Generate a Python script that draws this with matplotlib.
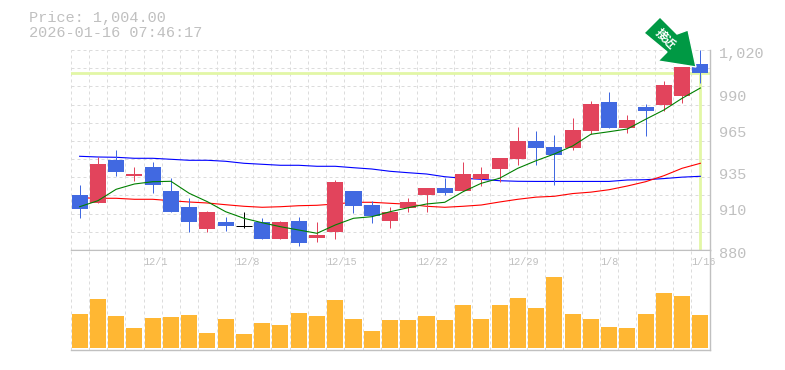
import matplotlib
matplotlib.use("Agg")
import matplotlib.pyplot as plt
from matplotlib.patches import Polygon
import numpy as np

FONT = "Liberation Mono"
GRAY = "#c0c0c0"
GRID = "#dcdcdc"
RED = "#e2445c"
BLUE = "#4169e1"
AMBER = "#ffb733"
LIME = "#e2f7a6"

price_now = 1004.0
stamp = "2026-01-16 07:46:17"

opens = [918.5, 912.9, 943.0, 931.8, 938.1, 921.3, 910.1, 894.7, 899.6, 897.1, 899.6, 887.7,
         900.3, 888.4, 892.6, 921.3, 911.5, 900.3, 909.4, 918.5, 923.4, 921.3, 929.7, 936.7,
         943.7, 956.3, 952.1, 951.4, 963.3, 983.6, 965.4, 980.1, 981.5, 987.8, 1010.2]
closes = [908.7, 940.2, 934.6, 933.2, 925.5, 906.6, 899.6, 906.6, 896.8, 897.1, 887.7, 899.6,
          884.9, 890.5, 927.6, 910.8, 903.8, 906.6, 913.6, 923.4, 919.9, 933.2, 933.2, 944.4,
          956.3, 951.4, 946.5, 964.0, 982.2, 965.4, 971.0, 977.3, 995.5, 1008.1, 1003.9]
highs = [925.5, 945.1, 950.0, 938.1, 941.6, 930.4, 916.4, 907.3, 903.1, 906.6, 902.4, 900.3,
         903.1, 899.6, 929.0, 921.3, 914.3, 910.1, 916.4, 923.4, 930.4, 941.6, 938.1, 944.4,
         966.1, 963.3, 960.5, 972.4, 984.3, 990.6, 974.5, 982.2, 998.3, 1008.1, 1020.0]
lows = [902.4, 912.9, 931.8, 928.3, 919.9, 906.6, 892.6, 892.6, 893.3, 895.4, 887.7, 887.7,
        882.8, 885.6, 887.7, 905.9, 898.9, 895.4, 906.6, 906.6, 918.5, 921.3, 924.8, 927.6,
        939.5, 939.5, 925.5, 950.0, 961.2, 965.4, 961.9, 959.8, 977.3, 982.9, 996.9]
ma_short = [910.3, 914.5, 922.5, 926.2, 927.8, 928.1, 919.7, 913.8, 906.8, 902.2, 899.1, 896.3,
            894.0, 891.7, 897.5, 902.2, 903.3, 906.8, 909.6, 912.2, 913.4, 920.8, 926.7, 930.2,
            937.2, 942.5, 947.2, 952.8, 961.0, 962.8, 964.7, 971.5, 978.0, 986.2, 993.4]
ma_mid = [916.6, 916.2, 916.2, 915.5, 915.5, 914.5, 913.6, 912.9, 911.7, 910.6, 909.9, 910.3,
          911.0, 911.3, 912.2, 913.4, 913.4, 912.7, 912.0, 910.6, 909.9, 910.6, 911.5, 913.6,
          915.5, 917.0, 917.6, 919.5, 920.5, 922.2, 924.8, 927.8, 932.0, 937.2, 940.7]
ma_long = [945.6, 945.1, 944.9, 944.2, 944.2, 943.5, 942.8, 942.8, 942.1, 940.7, 940.0, 939.3,
           939.3, 938.6, 938.6, 937.6, 936.7, 935.1, 934.1, 933.2, 931.3, 930.2, 929.5, 928.5,
           928.1, 928.0, 928.0, 928.0, 928.0, 928.0, 929.0, 929.2, 930.0, 931.0, 931.6]
volumes = [34, 49, 32, 20, 30, 31, 33, 15, 29, 14, 25, 23, 35, 32, 48, 29, 17, 28, 28, 32, 28,
           43, 29, 43, 50, 40, 71, 34, 29, 21, 20, 34, 55, 52, 33]
date_labels = ["12/1", "12/8", "12/15", "12/22", "12/29", "1/8", "1/16"]
date_slots = [4, 9, 14, 19, 24, 29, 34]
price_ticks = [880, 910, 935, 965, 990, 1020]
price_labels = ["880", "910", "935", "965", "990", "1,020"]

W, H = 785, 370
fig = plt.figure(figsize=(W / 100, H / 100), dpi=100, facecolor="white")
ax = fig.add_axes([70.5 / W, 1 - 250 / H, 639 / W, 200 / H])
vol = fig.add_axes([70.5 / W, 1 - 350 / H, 639 / W, 100 / H])

n = len(opens)
xs = np.arange(n) + 0.5

for a in (ax, vol):
    a.set_xlim(0, n)
    a.set_xticks(range(n + 1))
    a.tick_params(length=0, labelbottom=False, labelleft=False)
    a.grid(axis="x", color=GRID, lw=0.72, ls=(0, (3, 3)))
    a.set_axisbelow(True)
    for side in ("left", "top"):
        a.spines[side].set_visible(False)
    for side in ("right", "bottom"):
        a.spines[side].set_color(GRAY)
        a.spines[side].set_linewidth(1.0)

ax.set_ylim(880, 1020)
ax.set_yticks(np.linspace(880, 1020, 12))
ax.grid(axis="y", color=GRID, lw=0.72, ls=(0, (3, 3)))
vol.set_ylim(-2, 98)
vol.set_yticks([])
vol.spines["top"].set_visible(True)
vol.spines["top"].set_color(GRAY)

# current price cross
ax.axhline(price_now, color=LIME, lw=2.0, zorder=1)
ax.plot([xs[-1], xs[-1]], [880, price_now], color=LIME, lw=2.0, zorder=1, solid_capstyle="butt")

ax.plot(xs, ma_long, color="#0000ff", lw=0.8, zorder=2)
ax.plot(xs, ma_mid, color="#ff0000", lw=0.8, zorder=2)

for x, o, c, h, l in zip(xs, opens, closes, highs, lows):
    if o == c:
        col = "black"
    elif c > o:
        col = RED
    else:
        col = BLUE
    ax.vlines(x, l, h, color=col, lw=0.72, zorder=3)
    if o == c:
        ax.hlines(o, x - 0.44, x + 0.44, color=col, lw=0.72, zorder=3)
    else:
        ax.bar(x, abs(c - o), bottom=min(o, c), width=0.88, color=col, lw=0, zorder=3,
               antialiased=False)

ax.plot(xs, ma_short, color="#008000", lw=0.8, zorder=4)

vol.bar(xs, volumes, width=0.88, color=AMBER, lw=0, zorder=3, antialiased=False)

for slot, label in zip(date_slots, date_labels):
    vol.text(slot, 1.0 - 12 / 100, label, transform=vol.get_xaxis_transform(), ha="left",
             va="center", family=FONT, fontsize=7.3, color=GRAY, zorder=5)

for tick, label in zip(price_ticks, price_labels):
    ax.annotate(label, (1, tick), xycoords=ax.get_yaxis_transform(), xytext=(9, -4),
                textcoords="offset pixels", ha="left", va="center", family=FONT,
                fontsize=11, color=GRAY)

fig.text(29 / W, 1 - 18 / H, f"Price: {price_now:,.2f}", ha="left", va="center",
         family=FONT, fontsize=11, color=GRAY)
fig.text(29 / W, 1 - 33 / H, stamp, ha="left", va="center", family=FONT, fontsize=11,
         color=GRAY)

# signal arrow, placed in figure pixels
arrow = [(644, 33), (660, 17), (677, 34), (688, 30), (696, 67), (658, 61), (667, 52)]
fig.add_artist(Polygon([(x / W, 1 - y / H) for x, y in arrow], closed=True,
                       transform=fig.transFigure, fc="#009944", ec="white", lw=1.0, zorder=6))
fig.text(665.5 / W, 1 - 39.5 / H, "接近", rotation=-45, rotation_mode="anchor", ha="center",
         va="center", family="Noto Sans CJK JP", fontsize=8.5, fontweight="bold",
         color="white", zorder=7)

fig.savefig("out.png", dpi=100)
